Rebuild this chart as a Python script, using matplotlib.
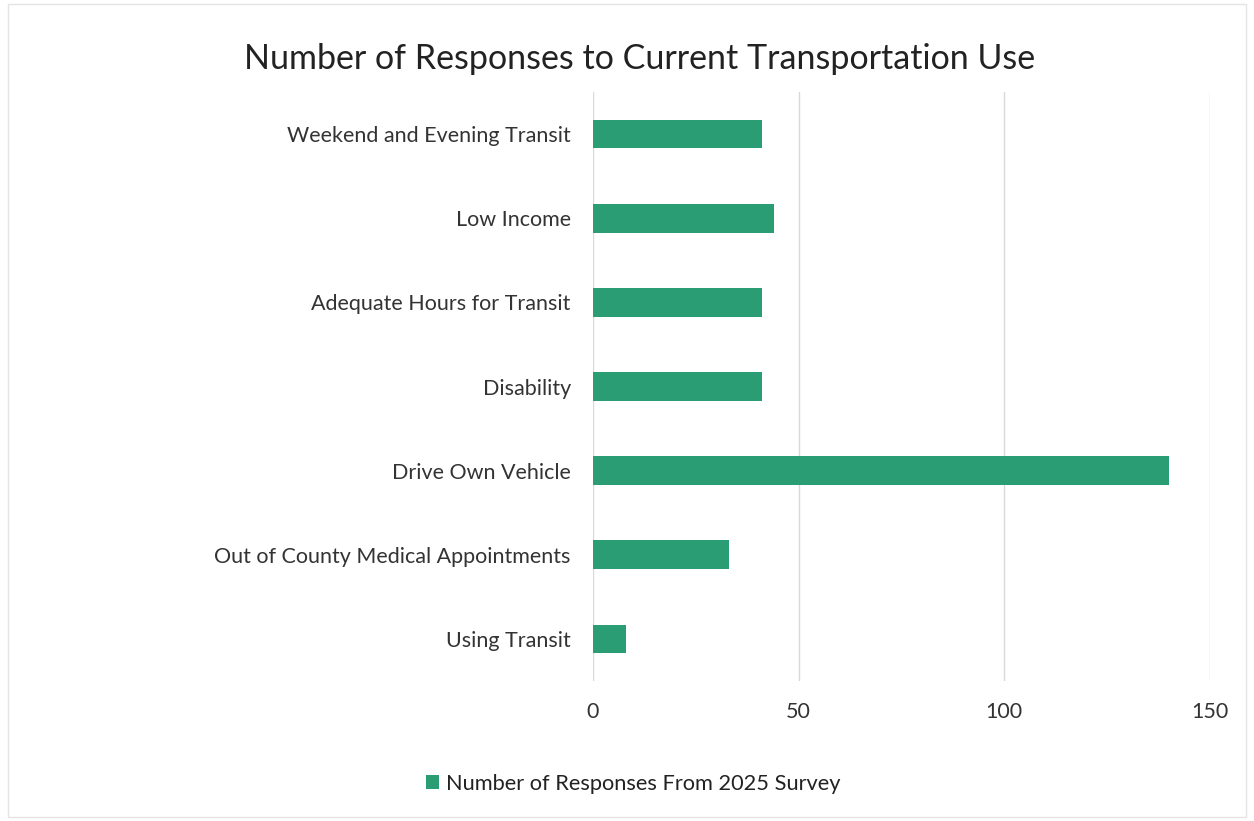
import numpy as np
import matplotlib.pyplot as plt
from matplotlib.patches import Rectangle

categories = ['Weekend and Evening Transit', 'Low Income', 'Adequate Hours for Transit',
              'Disability', 'Drive Own Vehicle', 'Out of County Medical Appointments',
              'Using Transit']
responses = [41, 44, 41, 41, 140, 33, 8]
series_name = 'Number of Responses From 2025 Survey'
ticks = [0, 50, 100, 150]

plt.rcParams['font.family'] = ['Lato', 'DejaVu Sans']
green = '#2a9d74'

fig = plt.figure(figsize=(12.54, 8.21), dpi=100)
ax = fig.add_axes([593/1254, 1 - 681/821, (1210-593)/1254, (681-92)/821])

y = np.arange(len(categories))
ax.barh(y, responses, height=0.34, color=green, label=series_name, zorder=3)
ax.set_ylim(len(categories) - 0.5, -0.5)
ax.set_xlim(0, 150)
ax.set_xticks(ticks)
ax.set_yticks(y)
ax.set_yticklabels(categories, fontsize=15.5, color='#333333')
ax.tick_params(axis='x', labelsize=15.5, colors='#333333', length=0, pad=15)
ax.tick_params(axis='y', length=0, pad=16)
ax.grid(axis='x', color='#d9d9d9', lw=1, zorder=0)
for s in ax.spines.values():
    s.set_visible(False)

fig.text(0.510, 0.928, 'Number of Responses to Current Transportation Use',
         ha='center', va='center', fontsize=24.5, color='#222222')

fig.legend(loc='center', bbox_to_anchor=(0.505, 0.045), frameon=False,
           fontsize=15.7, handlelength=0.6, handleheight=0.6, handletextpad=0.3,
           labelcolor='#222222')

fig.patches.append(Rectangle((0.006, 0.005), 0.988, 0.99, transform=fig.transFigure,
                             fill=False, edgecolor='#e4e4e4', lw=1))

fig.savefig('out.png', dpi=100)
